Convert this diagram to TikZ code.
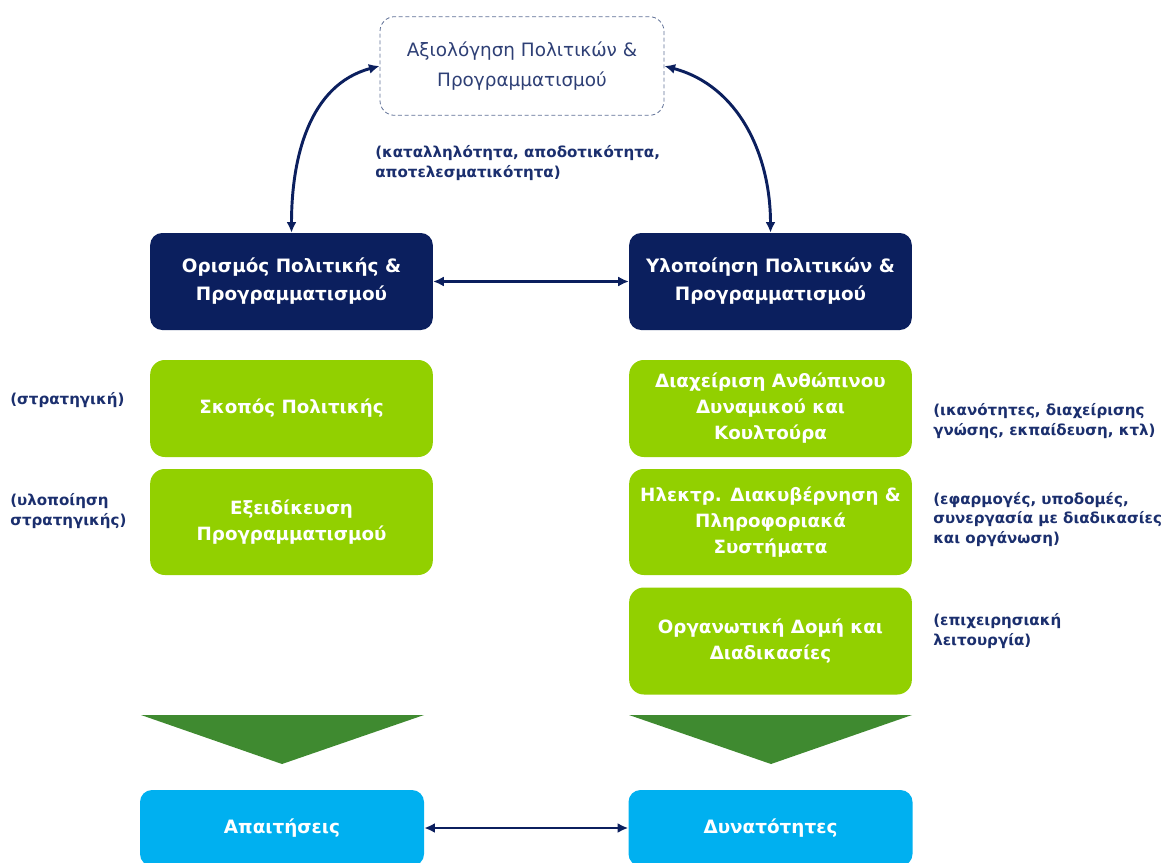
\documentclass[tikz,border=0pt]{standalone}
\usepackage{fontspec}
\setmainfont{DejaVu Sans}
\usetikzlibrary{arrows.meta}
\definecolor{navy}{HTML}{0B1F5E}
\definecolor{annot}{HTML}{1B2F6E}
\definecolor{evtext}{HTML}{2E3F75}
\definecolor{evborder}{HTML}{5F7096}
\definecolor{lime}{HTML}{92D000}
\definecolor{tri}{HTML}{3F8A30}
\definecolor{cyanbox}{HTML}{00B0F0}
\begin{document}
\begin{tikzpicture}[x=0.75pt,y=-0.75pt,
  evbox/.style={draw=evborder,densely dashed,line width=0.6pt,rounded corners=11pt,
    minimum width=213pt,minimum height=74pt,align=center,text=evtext,
    font=\fontsize{13.8}{22.5}\selectfont},
  darkbox/.style={fill=navy,rounded corners=9pt,minimum width=212pt,minimum height=72.75pt,
    align=center,text=white,font=\fontsize{13.8}{21}\selectfont\bfseries},
  greenbox/.style={fill=lime,rounded corners=11pt,minimum width=212pt,
    align=center,text=white,font=\fontsize{13.7}{19.5}\selectfont\bfseries},
  cyanbx/.style={fill=cyanbox,rounded corners=9pt,minimum width=213pt,minimum height=57pt,
    align=center,text=white,font=\fontsize{13.8}{18}\selectfont\bfseries},
  note/.style={align=left,text=annot,inner sep=0pt,font=\fontsize{11.3}{14.6}\selectfont\bfseries},
  link/.style={draw=navy,line width=2.2pt,{Latex[length=8pt,width=7.5pt]}-{Latex[length=8pt,width=7.5pt]}},
  trishape/.style={fill=tri}
]
\useasboundingbox (0,0) rectangle (1163,863);

% top evaluation box
\node[evbox] (ev) at (522,66) {Αξιολόγηση Πολιτικών \&\\Προγραμματισμού};
\node[note,anchor=base west] (evn) at (375,177) {(καταλληλότητα, αποδοτικότητα,\\αποτελεσματικότητα)};

% dark boxes
\node[darkbox] (def) at (291.5,281.5) {Ορισμός Πολιτικής \&\\Προγραμματισμού};
\node[darkbox] (imp) at (770.5,281.5) {Υλοποίηση Πολιτικών \&\\Προγραμματισμού};

% green boxes left
\node[greenbox,minimum height=72.75pt] (g1) at (291.5,408.5) {Σκοπός Πολιτικής};
\node[greenbox,minimum height=79.5pt] (g2) at (291.5,522) {Εξειδίκευση\\Προγραμματισμού};

% green boxes right
\node[greenbox,minimum height=72.75pt] (r1) at (770.5,408.5) {Διαχείριση Ανθώπινου\\Δυναμικού και\\Κουλτούρα};
\node[greenbox,minimum height=79.5pt] (r2) at (770.5,522) {Ηλεκτρ. Διακυβέρνηση \&\\Πληροφοριακά\\Συστήματα};
\node[greenbox,minimum height=80.25pt] (r3) at (770.5,641) {Οργανωτική Δομή και\\Διαδικασίες};

% triangles
\fill[trishape] (141,715) -- (424,715) -- (282,764) -- cycle;
\fill[trishape] (629,715) -- (912,715) -- (771,764) -- cycle;

% bottom boxes
\node[cyanbx] (req) at (282,828) {Απαιτήσεις};
\node[cyanbx] (cap) at (770.5,828) {Δυνατότητες};

% annotations left
\node[note,anchor=base west] (n1) at (10,404) {(στρατηγική)};
\node[note,anchor=base west] (n2) at (10,525) {(υλοποίηση\\στρατηγικής)};

% annotations right
\node[note,anchor=base west] (n3) at (933,435) {(ικανότητες, διαχείρισης\\γνώσης, εκπαίδευση, κτλ)};
\node[note,anchor=base west] (n4) at (933,543) {(εφαρμογές, υποδομές,\\συνεργασία με διαδικασίες\\και οργάνωση)};
\node[note,anchor=base west] (n5) at (933,645) {(επιχειρησιακή\\λειτουργία)};

% connectors
\draw[link] (ev.west) to[out=195,in=90] (def.north);
\draw[link] (ev.east) to[out=-15,in=90] (imp.north);
\draw[link] (def.east) -- (imp.west);
\draw[link] (req.east) -- (cap.west);
\end{tikzpicture}
\end{document}
